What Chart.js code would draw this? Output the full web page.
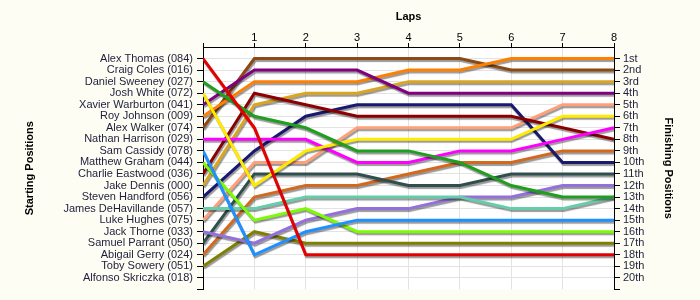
<!DOCTYPE html>
<html>
<head>
<meta charset="utf-8">
<script src="https://cdn.jsdelivr.net/npm/chart.js@4"></script>
<style>
  body { margin: 0; background: #fdfdf3; }
  #wrap { width: 700px; height: 300px; }
</style>
</head>
<body>
<div id="wrap"><canvas id="myChart" width="700" height="300"></canvas></div>
<script>
// lap numbers across the top
const laps = [0, 1, 2, 3, 4, 5, 6, 7, 8];

// starting grid (left axis) and finishing places (right axis)
const startNames = [
    'Alex Thomas (084)', 'Craig Coles (016)', 'Daniel Sweeney (027)', 'Josh White (072)',
    'Xavier Warburton (041)', 'Roy Johnson (009)', 'Alex Walker (074)', 'Nathan Harrison (029)',
    'Sam Cassidy (078)', 'Matthew Graham (044)', 'Charlie Eastwood (036)', 'Jake Dennis (000)',
    'Steven Handford (056)', 'James DeHavillande (057)', 'Luke Hughes (075)', 'Jack Thorne (033)',
    'Samuel Parrant (050)', 'Abigail Gerry (024)', 'Toby Sowery (051)', 'Alfonso Skriczka (018)'
];
const finishLabels = [
    '1st', '2nd', '3rd', '4th', '5th', '6th', '7th', '8th', '9th', '10th',
    '11th', '12th', '13th', '14th', '15th', '16th', '17th', '18th', '19th', '20th'
];

// position of each driver at every lap
const alexThomas      = [1, 7, 18, 18, 18, 18, 18, 18, 18];
const danielSweeney   = [3, 6, 7, 9, 9, 10, 12, 13, 13];
const joshWhite       = [4, 12, 9, 8, 8, 8, 8, 6, 6];
const xavierWarburton = [5, 2, 2, 2, 4, 4, 4, 4, 4];
const royJohnson      = [6, 3, 3, 3, 2, 2, 1, 1, 1];
const alexWalker      = [7, 1, 1, 1, 1, 1, 2, 2, 2];
const nathanHarrison  = [8, 8, 8, 10, 10, 9, 9, 8, 7];
const samCassidy      = [9, 18, 16, 15, 15, 15, 15, 15, 15];
const matthewGraham   = [10, 15, 14, 16, 16, 16, 16, 16, 16];
const charlieEastwood = [11, 4, 5, 6, 6, 6, 6, 7, 8];
const jakeDennis      = [12, 5, 4, 4, 3, 3, 3, 3, 3];
const stevenHandford  = [13, 9, 6, 5, 5, 5, 5, 10, 10];
const jamesDeHav      = [14, 14, 13, 13, 13, 13, 14, 14, 13];
const lukeHughes      = [15, 10, 10, 7, 7, 7, 7, 5, 5];
const jackThorne      = [16, 17, 15, 14, 14, 13, 13, 12, 12];
const samuelParrant   = [17, 11, 11, 11, 12, 12, 11, 11, 11];
const abigailGerry    = [18, 13, 12, 12, 11, 10, 10, 9, 9];
const tobySowery      = [19, 16, 17, 17, 17, 17, 17, 17, 17];

const series = [
    { name: startNames[0], pos: alexThomas, color: '#e50000' },
    { name: startNames[2], pos: danielSweeney, color: '#1f9e1f' },
    { name: startNames[3], pos: joshWhite, color: '#ffea00' },
    { name: startNames[4], pos: xavierWarburton, color: '#800080' },
    { name: startNames[5], pos: royJohnson, color: '#ff8000' },
    { name: startNames[6], pos: alexWalker, color: '#8b4a13' },
    { name: startNames[7], pos: nathanHarrison, color: '#ff00ff' },
    { name: startNames[8], pos: samCassidy, color: '#1e90ff' },
    { name: startNames[9], pos: matthewGraham, color: '#7cfc00' },
    { name: startNames[10], pos: charlieEastwood, color: '#8b0000' },
    { name: startNames[11], pos: jakeDennis, color: '#daa520' },
    { name: startNames[12], pos: stevenHandford, color: '#191970' },
    { name: startNames[13], pos: jamesDeHav, color: '#66cdaa' },
    { name: startNames[14], pos: lukeHughes, color: '#ffa07a' },
    { name: startNames[15], pos: jackThorne, color: '#9370db' },
    { name: startNames[16], pos: samuelParrant, color: '#2f4f4f' },
    { name: startNames[17], pos: abigailGerry, color: '#d2691e' },
    { name: startNames[18], pos: tobySowery, color: '#808000' }
];

const datasets = series.map((s) => {
    return {
        label: s.name,
        data: laps.map((lap, i) => ({ x: lap, y: s.pos[i] })),
        borderColor: s.color,
        backgroundColor: s.color,
        borderWidth: 3,
        pointRadius: 0,
        tension: 0,
        fill: false,
        yAxisID: 'y'
    };
});

// cream page, white plot area
const backdrop = {
    id: 'backdrop',
    beforeDraw(chart) {
        const ctx = chart.ctx;
        const a = chart.chartArea;
        ctx.save();
        ctx.fillStyle = '#fdfdf3';
        ctx.fillRect(0, 0, chart.width, chart.height);
        ctx.fillStyle = '#ffffff';
        ctx.fillRect(a.left, a.top, a.right - a.left, a.bottom - a.top);
        ctx.restore();
    }
};

// grey drop shadow under each line
const lineShadow = {
    id: 'lineShadow',
    beforeDatasetDraw(chart) {
        const ctx = chart.ctx;
        ctx.save();
        ctx.shadowColor = 'rgba(0,0,0,0.4)';
        ctx.shadowOffsetX = 1;
        ctx.shadowOffsetY = 2;
        ctx.shadowBlur = 1;
    },
    afterDatasetDraw(chart) {
        chart.ctx.restore();
    }
};

const positionTicks = (scale) => {
    const t = [];
    for (let i = 1; i <= 21; i++) t.push({ value: i });
    scale.ticks = t;
};

const labelFont = { family: 'Liberation Sans, Arial, sans-serif', size: 11 };
const titleFont = { family: 'Liberation Sans, Arial, sans-serif', size: 11, weight: 'bold' };

const ctx = document.getElementById('myChart').getContext('2d');
const myChart = new Chart(ctx, {
    type: 'line',
    data: { datasets: datasets },
    plugins: [backdrop, lineShadow],
    options: {
        responsive: false,
        animation: false,
        layout: { padding: { left: 0, right: 0, top: 0, bottom: 8 } },
        plugins: {
            legend: { display: false },
            tooltip: { enabled: false }
        },
        scales: {
            x: {
                type: 'linear',
                position: 'top',
                min: 0,
                max: 8,
                afterFit: (scale) => { scale.height = 47; },
                ticks: {
                    stepSize: 1,
                    color: '#000',
                    font: labelFont,
                    padding: -2,
                    maxRotation: 0,
                    callback: (v) => (v === 0 ? '' : v)
                },
                grid: { color: '#e3e3e3', tickColor: '#000', tickLength: 4 },
                border: { color: '#000' },
                title: { display: true, text: 'Laps', color: '#000', font: titleFont, padding: { top: 10, bottom: 0 } }
            },
            y: {
                type: 'linear',
                position: 'left',
                reverse: true,
                min: 0,
                max: 21,
                afterBuildTicks: positionTicks,
                afterFit: (scale) => { scale.width = 203; },
                ticks: {
                    color: '#1e1e3c',
                    font: labelFont,
                    padding: 4,
                    autoSkip: false,
                    callback: (v) => startNames[v - 1] || ''
                },
                grid: {
                    color: (c) => (c.tick && c.tick.value === 21 ? 'rgba(0,0,0,0)' : '#e3e3e3'),
                    tickColor: '#000',
                    tickLength: 6
                },
                border: { color: '#000' },
                title: { display: true, text: 'Starting Positions', color: '#000', font: titleFont, padding: { top: 23, bottom: 0 } }
            },
            y2: {
                type: 'linear',
                position: 'right',
                reverse: true,
                min: 0,
                max: 21,
                afterBuildTicks: positionTicks,
                afterFit: (scale) => { scale.width = 86; },
                ticks: {
                    color: '#1e1e3c',
                    font: labelFont,
                    padding: 3,
                    autoSkip: false,
                    callback: (v) => finishLabels[v - 1] || ''
                },
                grid: { drawOnChartArea: false, tickColor: '#000', tickLength: 6 },
                border: { color: '#000' },
                title: { display: true, text: 'Finishing Positions', color: '#000', font: titleFont, padding: { top: 25, bottom: 0 } }
            }
        }
    }
});
</script>
</body>
</html>
